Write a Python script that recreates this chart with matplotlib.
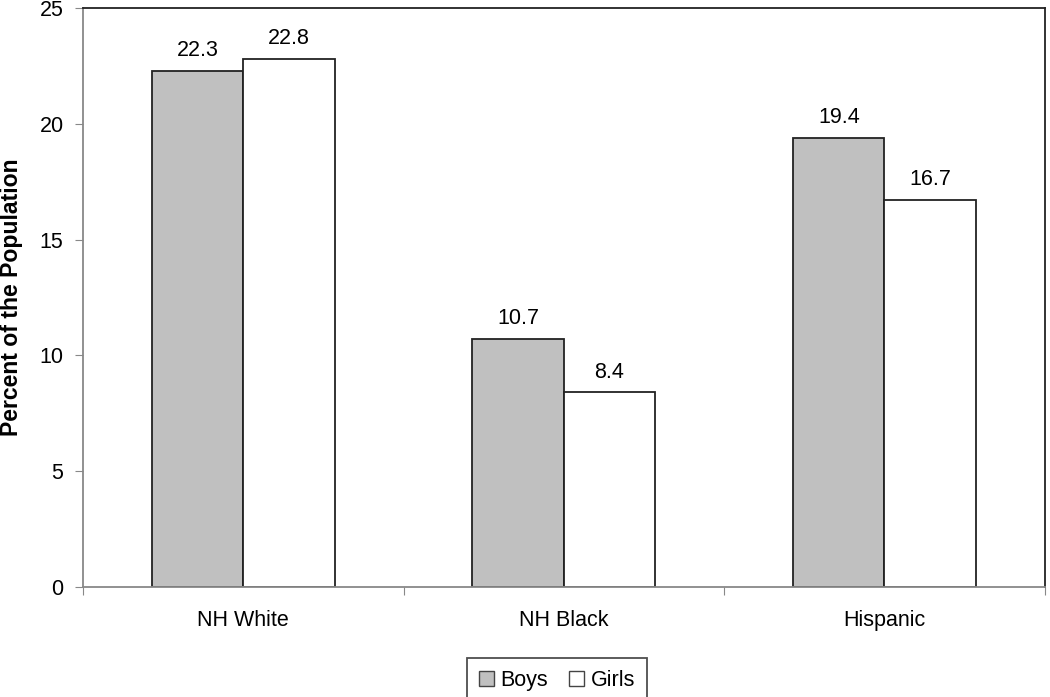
import matplotlib
matplotlib.use("Agg")
import matplotlib.pyplot as plt
import numpy as np

categories = ["NH White", "NH Black", "Hispanic"]
boys = [22.3, 10.7, 19.4]
girls = [22.8, 8.4, 16.7]
series_names = ["Boys", "Girls"]
yticks = [0, 5, 10, 15, 20, 25]

plt.rcParams['font.family'] = ['Liberation Sans', 'DejaVu Sans']

fig = plt.figure(figsize=(10.5, 6.97), dpi=100)
ax = fig.add_axes([0.079, 0.158, 0.916, 0.8305])

x = np.arange(len(categories))
w = 0.285
b1 = ax.bar(x - w/2, boys, w, color="#c0c0c0", edgecolor="#222222", linewidth=1.3, label=series_names[0])
b2 = ax.bar(x + w/2, girls, w, color="white", edgecolor="#222222", linewidth=1.3, label=series_names[1])

for bars, vals in ((b1, boys), (b2, girls)):
    for r, v in zip(bars, vals):
        ax.annotate(f"{v:.1f}", (r.get_x() + r.get_width()/2, v), xytext=(0, 7),
                    textcoords="offset points", ha="center", va="bottom", fontsize=15.5)

ax.set_xlim(-0.5, 2.5)
ax.set_ylim(0, 25)
ax.set_yticks(yticks)
ax.set_yticklabels([str(t) for t in yticks], fontsize=15.5)
ax.set_xticks([-0.5, 0.5, 1.5, 2.5])
ax.set_xticklabels([])
ax.set_xticks(x, minor=True)
ax.set_xticklabels(categories, minor=True, fontsize=15.5)
ax.tick_params(axis="x", which="minor", length=0, pad=17)
ax.tick_params(axis="x", which="major", direction="out", length=6, color="#888888")
ax.tick_params(axis="y", direction="out", length=6, color="#888888", pad=8)

for s in ("left", "bottom"):
    ax.spines[s].set_color("#888888")
    ax.spines[s].set_linewidth(1.3)
for s in ("top", "right"):
    ax.spines[s].set_color("#222222")
    ax.spines[s].set_linewidth(1.3)

ax.set_ylabel("Percent of the Population", fontsize=16.6, fontweight="bold", labelpad=12)

leg = ax.legend(loc="upper center", bbox_to_anchor=(0.4927, -0.1044), ncol=2, frameon=True,
                fancybox=False, edgecolor="#222222", fontsize=15.5, handlelength=0.7,
                handleheight=0.7, handletextpad=0.3, columnspacing=1.0, borderpad=0.55)
leg.get_frame().set_linewidth(1.3)
for h in leg.legend_handles:
    h.set_edgecolor("#444444")
    h.set_linewidth(1.0)

fig.savefig("out.png", dpi=100)
